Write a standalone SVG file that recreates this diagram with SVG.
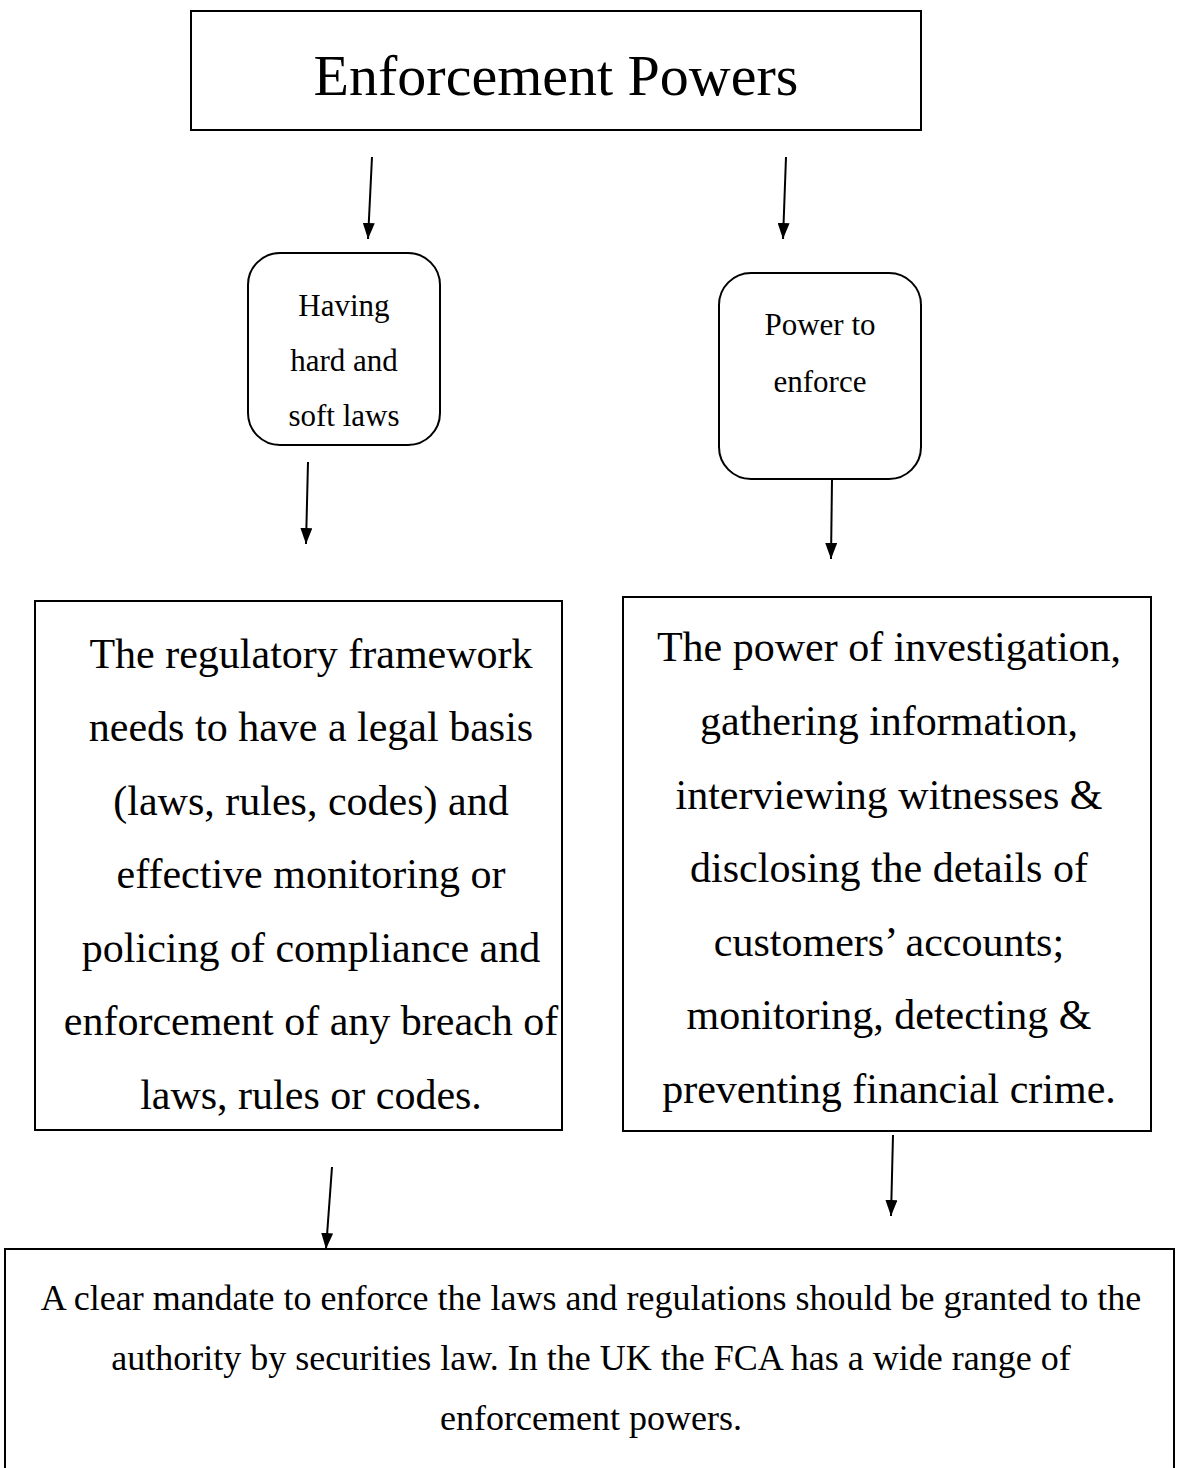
<svg xmlns="http://www.w3.org/2000/svg" width="1179" height="1468" viewBox="0 0 1179 1468">
<style>
.box{fill:#fff;stroke:#000;stroke-width:2}
.t{font-family:"Liberation Serif","Times New Roman",serif;fill:#000;text-anchor:middle}
.conn line{stroke:#000;stroke-width:2;marker-end:url(#ah)}
</style>
<defs>
<marker id="ah" viewBox="0 0 16 12" refX="16" refY="6" markerWidth="16" markerHeight="12" markerUnits="userSpaceOnUse" orient="auto">
<path d="M0,0 L16,6 L0,12 z" fill="#000"/>
</marker>
</defs>
<rect width="1179" height="1468" fill="#fff"/>
<g id="title">
<rect class="box" x="191" y="11" width="730" height="119"/>
<text class="t" x="556" y="95" font-size="58">Enforcement Powers</text>
</g>
<g id="hard-soft">
<rect class="box" x="248" y="253" width="192" height="192" rx="32"/>
<text class="t" font-size="31"><tspan x="344" y="316">Having</tspan><tspan x="344" y="371">hard and</tspan><tspan x="344" y="426">soft laws</tspan></text>
</g>
<g id="power-enforce">
<rect class="box" x="719" y="273" width="202" height="206" rx="32"/>
<text class="t" font-size="31"><tspan x="820" y="335">Power to</tspan><tspan x="820" y="392">enforce</tspan></text>
</g>
<g id="framework">
<rect class="box" x="35" y="601" width="527" height="529"/>
<text class="t" font-size="42"><tspan x="311" y="668">The regulatory framework</tspan><tspan x="311" y="741">needs to have a legal basis</tspan><tspan x="311" y="815">(laws, rules, codes) and</tspan><tspan x="311" y="888">effective monitoring or</tspan><tspan x="311" y="962">policing of compliance and</tspan><tspan x="311" y="1035">enforcement of any breach of</tspan><tspan x="311" y="1109">laws, rules or codes.</tspan></text>
</g>
<g id="investigation">
<rect class="box" x="623" y="597" width="528" height="534"/>
<text class="t" font-size="42"><tspan x="889" y="661">The power of investigation,</tspan><tspan x="889" y="735">gathering information,</tspan><tspan x="889" y="809">interviewing witnesses &amp;</tspan><tspan x="889" y="882">disclosing the details of</tspan><tspan x="889" y="956">customers’ accounts;</tspan><tspan x="889" y="1029">monitoring, detecting &amp;</tspan><tspan x="889" y="1103">preventing financial crime.</tspan></text>
</g>
<g id="mandate">
<rect class="box" x="5" y="1249" width="1169" height="230"/>
<text class="t" font-size="36"><tspan x="591" y="1310">A clear mandate to enforce the laws and regulations should be granted to the</tspan><tspan x="591" y="1370">authority by securities law. In the UK the FCA has a wide range of</tspan><tspan x="591" y="1430">enforcement powers.</tspan></text>
</g>
<g id="connectors" class="conn">
<line x1="372" y1="157" x2="368" y2="239"/>
<line x1="786" y1="157" x2="783" y2="239"/>
<line x1="308" y1="462" x2="306" y2="544"/>
<line x1="832" y1="479" x2="831" y2="559"/>
<line x1="893" y1="1135" x2="891" y2="1216"/>
<line x1="332" y1="1167" x2="326" y2="1249"/>
</g>
</svg>
